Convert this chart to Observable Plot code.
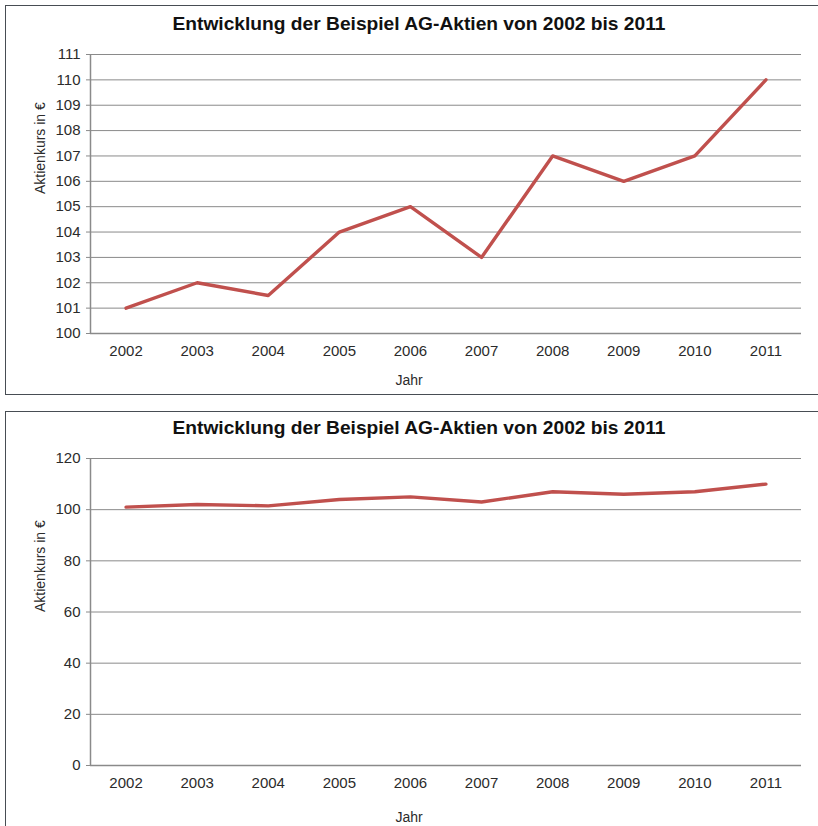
<!DOCTYPE html>
<html>
<head>
<meta charset="utf-8">
<script src="https://cdn.jsdelivr.net/npm/d3@7"></script>
<script src="https://cdn.jsdelivr.net/npm/@observablehq/plot@0.6"></script>
<style>
  html, body { margin: 0; padding: 0; background: #fff; overflow: hidden; width: 818px; height: 826px; }
  .frame { position: absolute; border: 1.5px solid #474d53; background: transparent; box-sizing: border-box; }
  .title { position: absolute; left: 0; width: 838px; text-align: center; font: bold 19.2px "Liberation Sans", Arial, sans-serif; line-height: 22px; color: #111; }
  .plot { position: absolute; left: 0; }
</style>
</head>
<body>
<div class="frame" style="left:5px; top:5px; width:900px; height:390px;"></div>
<div class="frame" style="left:5px; top:411px; width:900px; height:500px;"></div>
<div class="title" style="top:13px;">Entwicklung der Beispiel AG-Aktien von 2002 bis 2011</div>
<div class="title" style="top:417px;">Entwicklung der Beispiel AG-Aktien von 2002 bis 2011</div>
<div id="top" class="plot" style="top:0px;"></div>
<div id="bottom" class="plot" style="top:400px;"></div>
<script>
const years = [2002, 2003, 2004, 2005, 2006, 2007, 2008, 2009, 2010, 2011];
const prices = [101, 102, 101.5, 104, 105, 103, 107, 106, 107, 110];
const topYTicks = [100, 101, 102, 103, 104, 105, 106, 107, 108, 109, 110, 111];
const bottomYTicks = [0, 20, 40, 60, 80, 100, 120];
const yLabel = "Aktienkurs in €";
const xLabel = "Jahr";

const data = years.map((y, i) => ({year: y, price: prices[i]}));

function chart({yTicks, height, marginTop, marginBottom, jahrDy}) {
  const yDomain = [yTicks[0], yTicks[yTicks.length - 1]];
  const gray = "#8a8a8a";
  return Plot.plot({
    width: 818,
    height,
    marginLeft: 90,
    marginRight: 17,
    marginTop,
    marginBottom,
    style: {fontFamily: "'Liberation Sans', Arial, sans-serif", fontSize: "15px", color: "#2b2b2b", background: "transparent", overflow: "visible"},
    x: {domain: [2001.5, 2011.5]},
    y: {domain: yDomain},
    marks: [
      Plot.gridY(yTicks, {stroke: gray, strokeOpacity: 1, strokeWidth: 1}),
      Plot.ruleX([2001.5], {stroke: gray, strokeWidth: 1.5}),
      Plot.ruleY([yDomain[0]], {stroke: gray, strokeWidth: 1.5}),
      Plot.axisY(yTicks, {tickSize: 4, tickPadding: 6, label: null, stroke: gray, fill: "#2b2b2b", fontSize: 15}),
      Plot.axisX(years, {tickSize: 0, tickPadding: 12, label: null, tickFormat: d => String(d), fill: "#2b2b2b", fontSize: 15}),
      Plot.line(data, {x: "year", y: "price", stroke: "#c0504d", strokeWidth: 3.4}),
      Plot.text([yLabel], {text: d => d, frameAnchor: "left", dx: -50, rotate: -90, fontSize: 14, fill: "#2b2b2b"}),
      Plot.text([xLabel], {text: d => d, frameAnchor: "bottom", dx: -37, dy: jahrDy, fontSize: 14, fill: "#2b2b2b"})
    ]
  });
}

document.getElementById("top").append(chart({yTicks: topYTicks, height: 396, marginTop: 54, marginBottom: 63, jahrDy: 51}));
document.getElementById("bottom").append(chart({yTicks: bottomYTicks, height: 426, marginTop: 58, marginBottom: 61, jahrDy: 56}));
</script>
</body>
</html>
